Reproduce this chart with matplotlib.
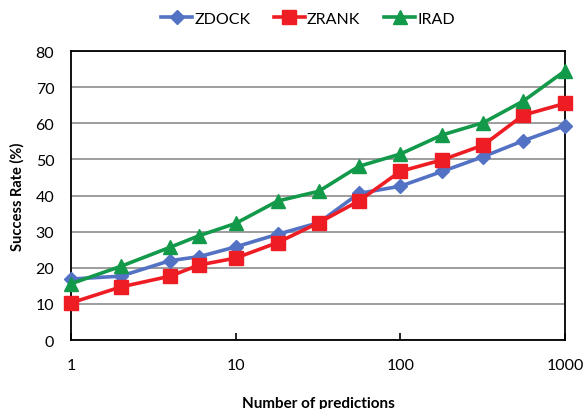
import numpy as np
import matplotlib.pyplot as plt
from matplotlib.ticker import FixedLocator, NullLocator

plt.rcParams['font.family'] = ['Lato', 'DejaVu Sans']

# number of predictions (log x axis)
n_pred = [1, 2, 4, 6, 10, 18, 32, 56, 100, 180, 320, 560, 1000]

# success rates (%)
zdock = [16.9, 17.7, 22.0, 23.1, 25.8, 29.3, 32.5, 40.6, 42.6, 46.7, 50.8, 55.2, 59.3]
zrank = [10.3, 14.7, 17.7, 20.8, 22.7, 27.0, 32.5, 38.5, 46.7, 49.9, 54.0, 62.3, 65.5]
irad = [15.6, 20.4, 25.7, 28.9, 32.3, 38.5, 41.2, 48.1, 51.5, 56.8, 60.2, 66.2, 74.5]

fig = plt.figure(figsize=(5.83, 4.10), dpi=100)
ax = fig.add_axes([0.1218, 0.168, 0.969 - 0.1218, 0.873 - 0.168])

ax.plot(n_pred, zdock, color='#5472C4', marker='D', markersize=7.5, linewidth=2.6,
        label='ZDOCK', clip_on=False, zorder=3)
ax.plot(n_pred, zrank, color='#EE1D24', marker='s', markersize=9.5, linewidth=2.6,
        label='ZRANK', clip_on=False, zorder=4)
ax.plot(n_pred, irad, color='#13994A', marker='^', markersize=10, linewidth=2.6,
        label='IRAD', clip_on=False, zorder=5)

ax.set_xscale('log')
ax.set_xlim(1, 1000)
ax.set_ylim(0, 80)
ax.xaxis.set_major_locator(FixedLocator([1, 10, 100, 1000]))
ax.xaxis.set_minor_locator(NullLocator())
ax.set_xticklabels(['1', '10', '100', '1000'])
ax.set_yticks(np.arange(0, 81, 10))

ax.yaxis.grid(True, color='#8c8c8c', linewidth=1.2)
ax.set_axisbelow(True)
for s in ax.spines.values():
    s.set_linewidth(1.3)
    s.set_color('black')

ax.tick_params(axis='x', direction='in', length=5, width=1.2, pad=13, labelsize=11.5)
ax.tick_params(axis='y', length=0, pad=12, labelsize=11.5)

ax.set_xlabel('Number of predictions', fontsize=11, fontweight='bold', labelpad=17)
ax.set_ylabel('Success Rate (%)', fontsize=10.5, fontweight='bold', labelpad=8)

ax.legend(loc='lower center', bbox_to_anchor=(0.48, 1.065), ncol=3, frameon=False,
          fontsize=11.5, handlelength=1.9, handletextpad=0.15, columnspacing=1.5,
          borderaxespad=0)

fig.savefig('out.png', dpi=100)
